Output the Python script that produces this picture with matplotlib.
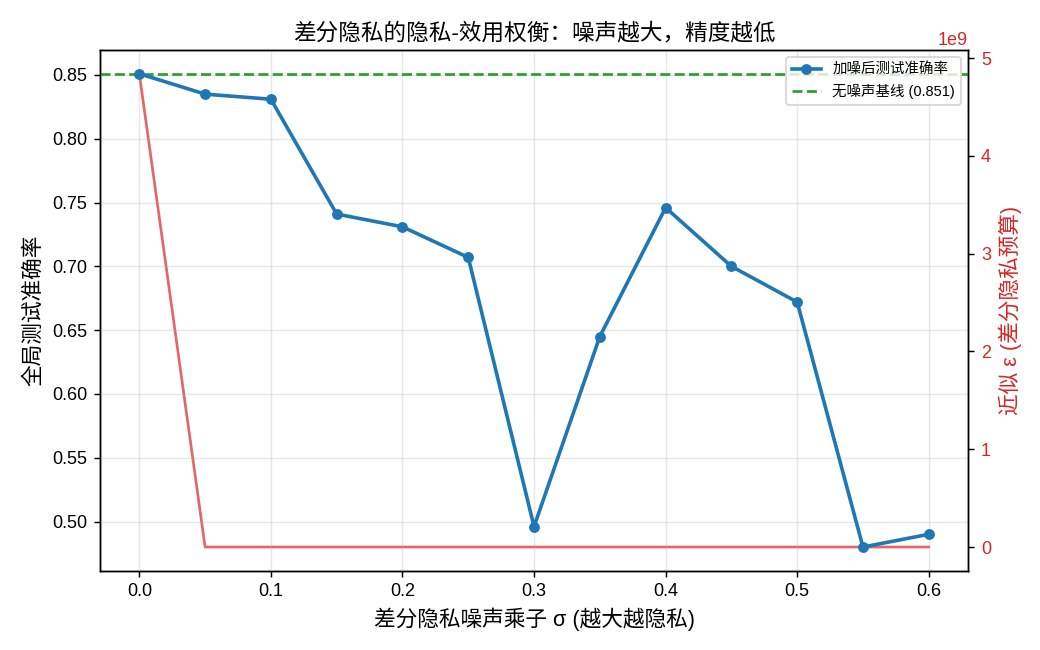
import numpy as np
import matplotlib
matplotlib.use("Agg")
import matplotlib.pyplot as plt

plt.rcParams['font.family'] = ['Liberation Sans', 'Noto Sans CJK SC', 'DejaVu Sans']
plt.rcParams['axes.unicode_minus'] = False

# data
sigmas = [0.0, 0.05, 0.1, 0.15, 0.2, 0.25, 0.3, 0.35, 0.4, 0.45, 0.5, 0.55, 0.6]
accuracy = [0.851, 0.835, 0.831, 0.741, 0.731, 0.707, 0.496, 0.645, 0.746, 0.700, 0.672, 0.480, 0.490]
epsilon = [4.84e9, 0, 0, 0, 0, 0, 0, 0, 0, 0, 0, 0, 0]
baseline = 0.851

fig, ax1 = plt.subplots(figsize=(8, 5), dpi=130)

l1, = ax1.plot(sigmas, accuracy, marker='o', color='#1f77b4', linewidth=2,
               markersize=5, label='加噪后测试准确率', zorder=3)
l2 = ax1.axhline(baseline, color='#2ca02c', linestyle='--', linewidth=1.5,
                 label=f'无噪声基线 ({baseline:.3f})')
ax1.set_xlabel('差分隐私噪声乘子 σ (越大越隐私)', fontsize=12)
ax1.set_ylabel('全局测试准确率', fontsize=12)
ax1.tick_params(labelsize=10)
ax1.grid(alpha=0.3)

ax2 = ax1.twinx()
ax2.plot(sigmas, epsilon, color='tab:red', alpha=0.7, linewidth=1.5)
ax2.set_ylabel('近似 ε (差分隐私预算)', fontsize=12, color='tab:red')
ax2.tick_params(axis='y', labelcolor='tab:red', labelsize=10)
ax2.yaxis.get_offset_text().set_color('tab:red')
ax2.yaxis.get_offset_text().set_fontsize(10)

ax1.set_zorder(ax2.get_zorder() + 1)
ax1.patch.set_visible(False)

ax1.legend(handles=[l1, l2], loc='upper right', fontsize=8)
ax1.set_title('差分隐私的隐私-效用权衡：噪声越大，精度越低', fontsize=12.5)

fig.subplots_adjust(left=0.096, right=0.931, top=0.923, bottom=0.122)
plt.savefig('out.png', dpi=130)
